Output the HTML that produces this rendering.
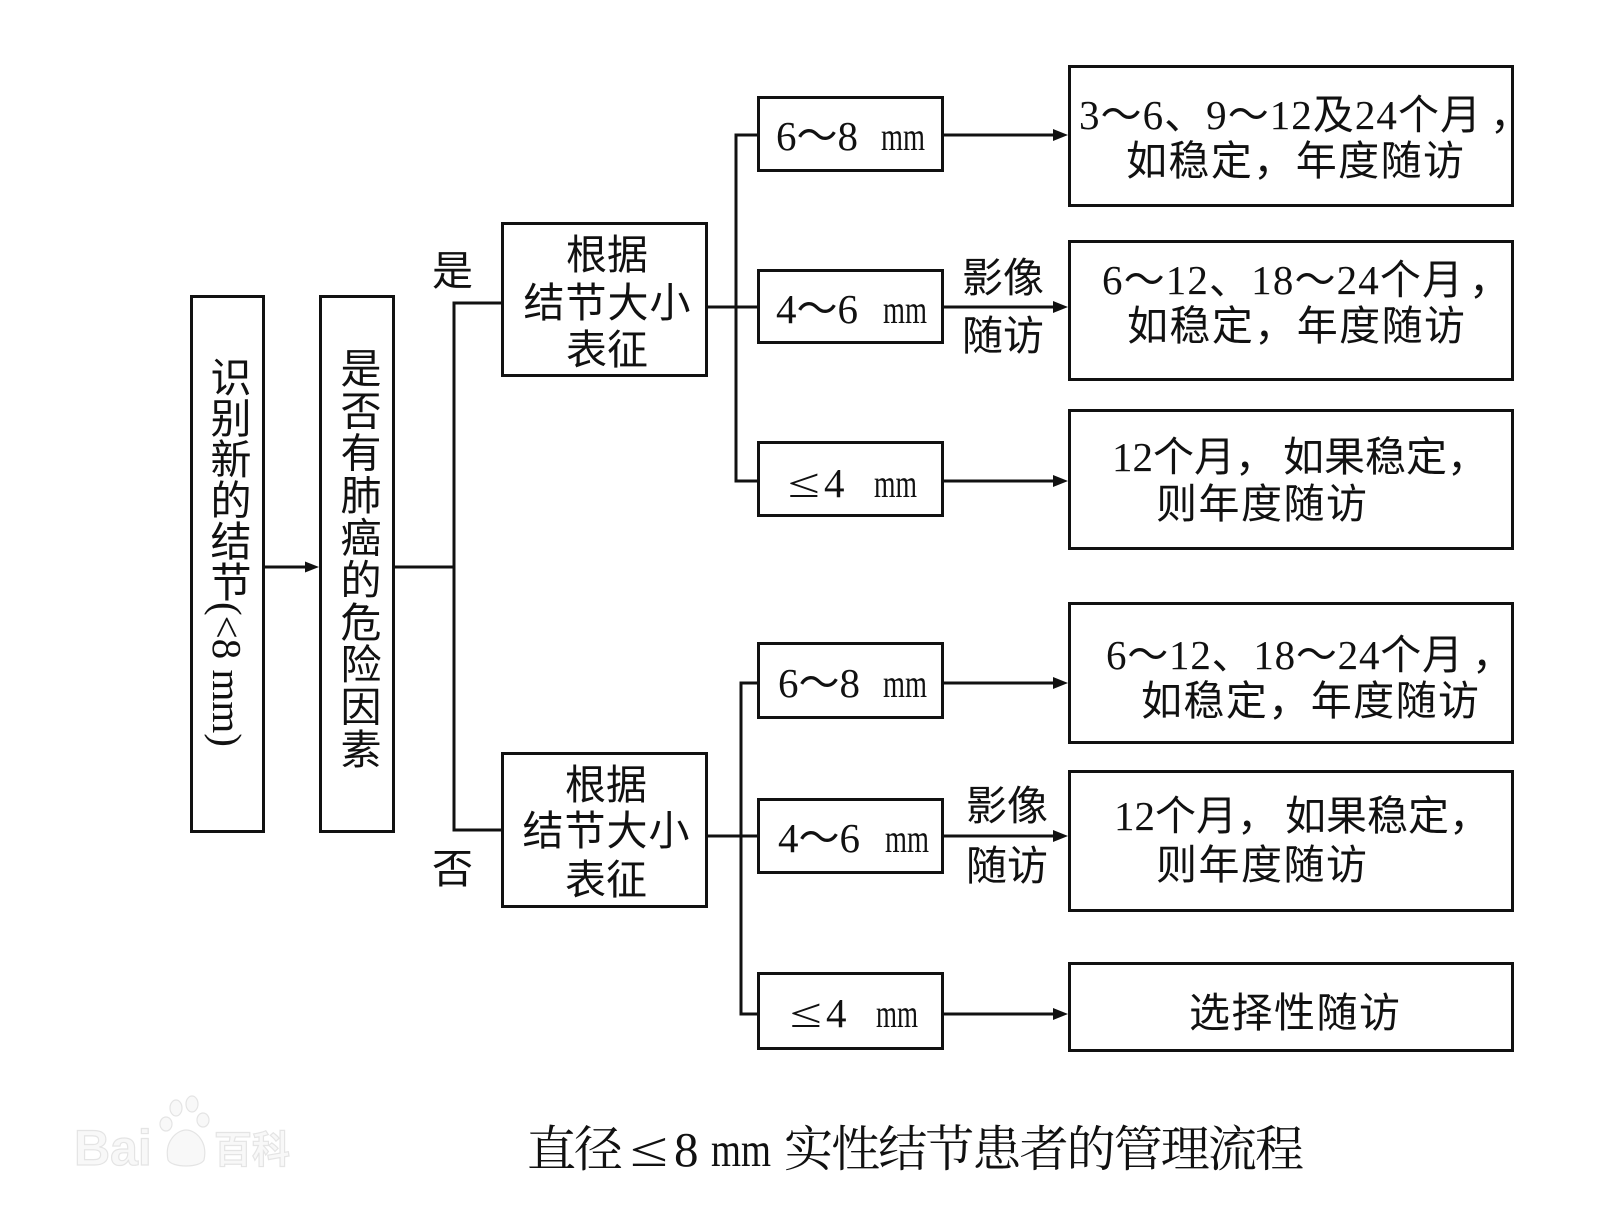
<!DOCTYPE html>
<html>
<head>
<meta charset="utf-8">
<style>
  html, body { margin:0; padding:0; background:#fff; }
  body { width:1620px; height:1226px; position:relative; overflow:hidden; }
  svg { position:absolute; left:0; top:0; }
  .t { font-family:"Liberation Serif","Noto Sans CJK SC",sans-serif; font-size:41px; fill:#111; }
  .mm { font-family:"Liberation Serif",serif; font-size:40px; fill:#111; }
  .cap { font-family:"Liberation Serif","Noto Serif CJK SC",serif; font-size:49px; fill:#111; }
  .v { position:absolute; writing-mode:vertical-rl; font-family:"Liberation Serif","Noto Sans CJK SC",sans-serif;
       font-size:41px; line-height:41px; color:#111; white-space:nowrap; }
</style>
</head>
<body>
<svg width="1620" height="1226" viewBox="0 0 1620 1226" xmlns="http://www.w3.org/2000/svg">
  <g fill="none" stroke="#111" stroke-width="3" stroke-linejoin="miter">
    <rect x="191.5" y="296.5" width="72" height="535"/>
    <rect x="320.5" y="296.5" width="73" height="535"/>
    <rect x="502.5" y="223.5" width="204" height="152"/>
    <rect x="502.5" y="753.5" width="204" height="153"/>
    <rect x="758.5" y="97.5" width="184" height="73"/>
    <rect x="758.5" y="270.5" width="184" height="72"/>
    <rect x="758.5" y="442.5" width="184" height="73"/>
    <rect x="758.5" y="643.5" width="184" height="74"/>
    <rect x="758.5" y="799.5" width="184" height="73"/>
    <rect x="758.5" y="973.5" width="184" height="75"/>
    <rect x="1069.5" y="66.5" width="443" height="139"/>
    <rect x="1069.5" y="241.5" width="443" height="138"/>
    <rect x="1069.5" y="410.5" width="443" height="138"/>
    <rect x="1069.5" y="603.5" width="443" height="139"/>
    <rect x="1069.5" y="771.5" width="443" height="139"/>
    <rect x="1069.5" y="963.5" width="443" height="87"/>

    <path d="M265 567 H307"/>
    <path d="M395 567 H454"/>
    <path d="M501 303 H454 V830 H501"/>
    <path d="M757 135 H736 V481 H757"/>
    <path d="M708 307 H757"/>
    <path d="M757 683 H741 V1014 H757"/>
    <path d="M708 836 H757"/>
    <path d="M944 135 H1055"/>
    <path d="M944 307 H1055"/>
    <path d="M944 481 H1055"/>
    <path d="M944 683 H1055"/>
    <path d="M944 836 H1055"/>
    <path d="M944 1014 H1055"/>
  </g>
  <g fill="#111" stroke="none">
    <polygon points="305,561.5 319,567 305,572.5"/>
    <polygon points="1053,129 1068,135 1053,141"/>
    <polygon points="1053,301 1068,307 1053,313"/>
    <polygon points="1053,475 1068,481 1053,487"/>
    <polygon points="1053,677 1068,683 1053,689"/>
    <polygon points="1053,830 1068,836 1053,842"/>
    <polygon points="1053,1008 1068,1014 1053,1020"/>
  </g>

  <text class="t" x="432" y="285">是</text>
  <text class="t" x="432" y="883">否</text>

  <text class="t" x="607" y="269" text-anchor="middle">根据</text>
  <text class="t" x="607" y="317" text-anchor="middle" textLength="167">结节大小</text>
  <text class="t" x="607" y="364" text-anchor="middle">表征</text>
  <text class="t" x="606" y="799" text-anchor="middle">根据</text>
  <text class="t" x="606" y="845" text-anchor="middle" textLength="167">结节大小</text>
  <text class="t" x="606" y="894" text-anchor="middle">表征</text>

  <text class="t" x="776" y="150">6～8</text>
  <text class="mm" x="881" y="150" textLength="44" lengthAdjust="spacingAndGlyphs">mm</text>
  <text class="t" x="776" y="323">4～6</text>
  <text class="mm" x="883" y="323" textLength="44" lengthAdjust="spacingAndGlyphs">mm</text>
  <text class="t" x="788" y="497" font-size="48" textLength="32" lengthAdjust="spacingAndGlyphs">≤</text>
  <text class="t" x="824" y="497">4</text>
  <text class="mm" x="874" y="497" textLength="43" lengthAdjust="spacingAndGlyphs">mm</text>

  <text class="t" x="778" y="697">6～8</text>
  <text class="mm" x="883" y="697" textLength="44" lengthAdjust="spacingAndGlyphs">mm</text>
  <text class="t" x="778" y="852">4～6</text>
  <text class="mm" x="885" y="852" textLength="44" lengthAdjust="spacingAndGlyphs">mm</text>
  <text class="t" x="790" y="1027" font-size="48" textLength="32" lengthAdjust="spacingAndGlyphs">≤</text>
  <text class="t" x="826" y="1027">4</text>
  <text class="mm" x="876" y="1027" textLength="42" lengthAdjust="spacingAndGlyphs">mm</text>

  <text class="t" x="962" y="292">影像</text>
  <text class="t" x="962" y="350">随访</text>
  <text class="t" x="966" y="820">影像</text>
  <text class="t" x="966" y="880">随访</text>

  <text class="t" x="1079" y="129" textLength="402">3～6、9～12及24个月</text>
  <text class="t" x="1490" y="129">，</text>
  <text class="t" x="1126" y="175" textLength="338">如稳定，年度随访</text>

  <text class="t" x="1102" y="294" textLength="361">6～12、18～24个月</text>
  <text class="t" x="1469" y="294">，</text>
  <text class="t" x="1127" y="340" textLength="338">如稳定，年度随访</text>

  <text class="t" x="1112" y="471">12个月，</text>
  <text class="t" x="1283" y="471">如果稳定，</text>
  <text class="t" x="1156" y="518" textLength="211">则年度随访</text>

  <text class="t" x="1106" y="669" textLength="357">6～12、18～24个月</text>
  <text class="t" x="1472" y="669">，</text>
  <text class="t" x="1141" y="715" textLength="338">如稳定，年度随访</text>

  <text class="t" x="1114" y="830">12个月，</text>
  <text class="t" x="1285" y="830">如果稳定，</text>
  <text class="t" x="1156" y="879" textLength="211">则年度随访</text>

  <text class="t" x="1189" y="1027" textLength="211">选择性随访</text>

  <text class="cap" x="527" y="1166" textLength="96">直径</text>
  <text class="cap" x="630" y="1166" textLength="38" lengthAdjust="spacingAndGlyphs">≤</text>
  <text class="cap" x="674" y="1166" font-size="52">8</text>
  <text class="cap" x="711" y="1166" textLength="60" lengthAdjust="spacingAndGlyphs">mm</text>
  <text class="cap" x="784" y="1166" textLength="520">实性结节患者的管理流程</text>

  <g opacity="0.55">
    <text x="74" y="1165" font-family="Liberation Sans, sans-serif" font-weight="bold" font-size="50" fill="#f4f4f4" stroke="#cfcfcf" stroke-width="1.2">Bai</text>
    <g fill="#f4f4f4" stroke="#cfcfcf" stroke-width="1.2">
      <ellipse cx="176" cy="1108" rx="6" ry="8"/>
      <ellipse cx="192" cy="1104" rx="6" ry="8"/>
      <ellipse cx="166" cy="1124" rx="6" ry="7"/>
      <ellipse cx="203" cy="1120" rx="6" ry="7"/>
      <path d="M168 1160 C164 1140 178 1130 186 1130 C196 1130 208 1142 204 1160 C200 1168 172 1168 168 1160 Z"/>
    </g>
    <text x="214" y="1163" font-family="Noto Sans CJK SC, sans-serif" font-weight="bold" font-size="38" fill="#f4f4f4" stroke="#cfcfcf" stroke-width="1.2">百科</text>
  </g>
</svg>

<div class="v" style="left:206px; top:356px;">识别新的结节(&lt;8 mm)</div>
<div class="v" style="left:336px; top:347px; letter-spacing:1.3px;">是否有肺癌的危险因素</div>
</body>
</html>
